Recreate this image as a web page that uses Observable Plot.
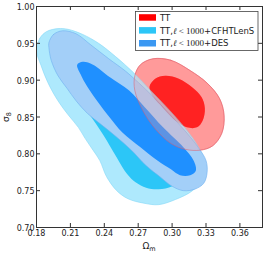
<!DOCTYPE html>
<html><head><meta charset="utf-8">
<script src="https://cdn.jsdelivr.net/npm/d3@7"></script>
<script src="https://cdn.jsdelivr.net/npm/@observablehq/plot@0.6"></script>
<style>body{margin:0;background:#fff}</style>
</head><body><div id="chart"></div>
<script>
const omegaTicks = [0.18, 0.21, 0.24, 0.27, 0.30, 0.33, 0.36];
const sigmaTicks = [0.70, 0.75, 0.80, 0.85, 0.90, 0.95, 1.00];
const seriesNames = ["TT", "TT,ℓ < 1000+CFHTLenS", "TT,ℓ < 1000+DES"];
const seriesColors = ["#ff0000", "#2cc6f7", "#3b98f2"];

// TT contours (Omega_m, sigma_8)
const tt95 = [[0.283,0.929],[0.299,0.927],[0.316,0.913],[0.331,0.896],[0.342,0.875],[0.346,0.852],[0.344,0.828],[0.336,0.811],[0.325,0.805],[0.312,0.806],[0.299,0.814],[0.285,0.834],[0.274,0.859],[0.267,0.886],[0.267,0.906],[0.272,0.921]];
const tt68 = [[0.294,0.906],[0.306,0.902],[0.318,0.890],[0.326,0.877],[0.329,0.862],[0.327,0.845],[0.322,0.836],[0.313,0.836],[0.303,0.845],[0.292,0.862],[0.283,0.878],[0.280,0.891],[0.285,0.902]];
// TT, l<1000 + CFHTLenS
const cfht95 = [[0.180,0.940],[0.183,0.957],[0.189,0.966],[0.199,0.970],[0.208,0.969],[0.221,0.962],[0.235,0.950],[0.250,0.932],[0.266,0.910],[0.281,0.886],[0.296,0.862],[0.312,0.834],[0.323,0.810],[0.329,0.788],[0.327,0.767],[0.318,0.750],[0.303,0.738],[0.288,0.731],[0.275,0.733],[0.261,0.739],[0.251,0.750],[0.242,0.769],[0.236,0.791],[0.230,0.805],[0.223,0.821],[0.217,0.836],[0.208,0.853],[0.199,0.872],[0.190,0.897],[0.184,0.920]];
const cfht68 = [[0.205,0.921],[0.209,0.931],[0.217,0.931],[0.232,0.914],[0.247,0.891],[0.263,0.866],[0.281,0.837],[0.297,0.810],[0.307,0.787],[0.308,0.768],[0.300,0.756],[0.288,0.752],[0.277,0.754],[0.268,0.761],[0.260,0.773],[0.251,0.795],[0.239,0.826],[0.228,0.851],[0.218,0.872],[0.211,0.894],[0.206,0.910]];
// TT, l<1000 + DES
const des95 = [[0.191,0.951],[0.195,0.962],[0.203,0.967],[0.215,0.963],[0.228,0.948],[0.244,0.929],[0.259,0.912],[0.270,0.897],[0.283,0.878],[0.297,0.855],[0.311,0.832],[0.323,0.809],[0.330,0.791],[0.331,0.775],[0.328,0.760],[0.320,0.752],[0.310,0.750],[0.300,0.756],[0.290,0.768],[0.277,0.784],[0.264,0.805],[0.250,0.824],[0.237,0.840],[0.225,0.855],[0.215,0.872],[0.207,0.889],[0.199,0.906],[0.193,0.927],[0.191,0.944]];
const des68 = [[0.216,0.921],[0.221,0.925],[0.230,0.921],[0.245,0.904],[0.262,0.886],[0.276,0.863],[0.292,0.836],[0.310,0.809],[0.319,0.791],[0.321,0.777],[0.316,0.771],[0.307,0.771],[0.299,0.779],[0.287,0.791],[0.272,0.809],[0.256,0.829],[0.245,0.849],[0.234,0.871],[0.225,0.891],[0.219,0.908]];

const X = d => d[0], Y = d => d[1];
const C = "catmull-rom-closed";
const frameW = 266 - 36 - 4, frameH = 256 - 6 - 29;

const plot = Plot.plot({
  width: 266, height: 256,
  marginTop: 6, marginRight: 4, marginBottom: 29, marginLeft: 36,
  x: {domain: [0.18, 0.38]},
  y: {domain: [0.70, 1.00]},
  style: {fontFamily: "DejaVu Sans", fontSize: "8px", color: "#222", background: "#fff"},
  marks: [
    Plot.line(tt95, {x: X, y: Y, curve: C, fill: "#ff9a9a", stroke: "#f07878", strokeWidth: 0.6}),
    Plot.line(tt68, {x: X, y: Y, curve: C, fill: "#ff0000", stroke: "none"}),
    Plot.line(cfht95, {x: X, y: Y, curve: C, fill: "#aee9fd", stroke: "#86d8f7", strokeWidth: 0.6}),
    Plot.line(cfht68, {x: X, y: Y, curve: C, fill: "#2cc6f7", stroke: "none"}),
    Plot.line(des95, {x: X, y: Y, curve: C, fill: "#a3cff8", stroke: "#6fb0f0", strokeWidth: 0.6}),
    Plot.line(des68, {x: X, y: Y, curve: C, fill: "#1f90ff", stroke: "none"}),
    Plot.line(tt95, {x: X, y: Y, curve: C, fill: "#ff9a9a", fillOpacity: 0.28, stroke: "#e05a6a", strokeWidth: 0.6, strokeOpacity: 0.85}),
    Plot.line(tt68, {x: X, y: Y, curve: C, fill: "#ff0000", fillOpacity: 0.2, stroke: "none"}),
    Plot.frame({stroke: "#333"}),
    Plot.tickX(omegaTicks, {x: d => d, stroke: "#333", insetTop: frameH - 4}),
    Plot.tickX(omegaTicks, {x: d => d, stroke: "#333", insetBottom: frameH - 4}),
    Plot.tickY(sigmaTicks, {y: d => d, stroke: "#333", insetRight: frameW - 4}),
    Plot.tickY(sigmaTicks, {y: d => d, stroke: "#333", insetLeft: frameW - 4}),
    Plot.axisX(omegaTicks, {tickSize: 0, tickPadding: 3, tickFormat: d3.format(".2f"), label: null}),
    Plot.axisY(sigmaTicks, {tickSize: 0, tickPadding: 2, tickFormat: d3.format(".2f"), label: null, dy: 1})
  ]
});

const svg = d3.select(plot);
// axis titles
const xt = svg.append("text").attr("x", 149).attr("y", 249).attr("text-anchor", "middle")
  .attr("font-family", "DejaVu Sans").attr("font-size", 9).attr("fill", "#222");
xt.append("tspan").text("Ω");
xt.append("tspan").attr("font-size", 6.5).attr("dy", 2).text("m");
const yt = svg.append("text").attr("transform", "translate(9,117) rotate(-90)").attr("text-anchor", "middle")
  .attr("font-family", "DejaVu Sans").attr("font-size", 9).attr("fill", "#222");
yt.append("tspan").text("σ");
yt.append("tspan").attr("font-size", 6.5).attr("dy", 2).text("8");

// legend
const lg = svg.append("g").attr("text-anchor", "start");
lg.append("rect").attr("x", 135.5).attr("y", 11.5).attr("width", 122.5).attr("height", 39)
  .attr("fill", "#fff").attr("stroke", "#444").attr("stroke-width", 0.8);
seriesNames.forEach((name, i) => {
  lg.append("rect").attr("x", 139).attr("y", 14.2 + 12.9 * i).attr("width", 17).attr("height", 6.5)
    .attr("fill", seriesColors[i]);
  const t = lg.append("text").attr("x", 160).attr("y", 20.8 + 12.8 * i).attr("text-anchor", "start")
    .attr("font-family", "DejaVu Sans").attr("font-size", 8.5).attr("fill", "#222");
  const m = name.match(/^(TT,)ℓ < (\d+)(\+.*)$/);
  if (m) {
    t.append("tspan").text(m[1]);
    t.append("tspan").attr("font-family", "DejaVu Serif").attr("font-style", "italic").text("ℓ");
    t.append("tspan").attr("font-family", "Liberation Serif").attr("font-size", 9).text(" < " + m[2]);
    t.append("tspan").text(m[3]);
  } else {
    t.text(name);
  }
});

document.getElementById("chart").appendChild(plot);
</script>
</body></html>
